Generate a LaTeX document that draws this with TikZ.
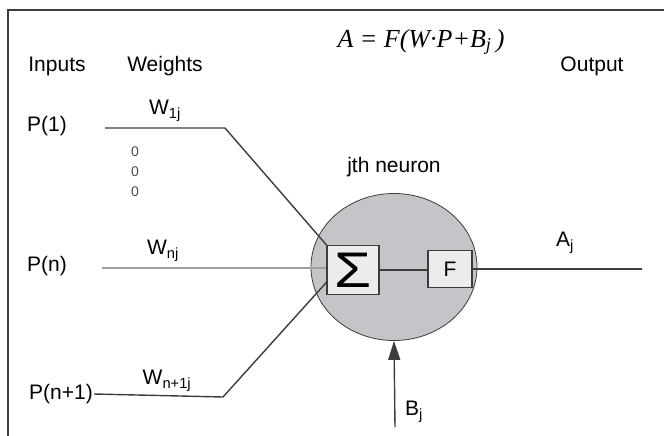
\documentclass[tikz,border=0pt]{standalone}
\usepackage{fontspec}
\setmainfont{Liberation Sans}
\newfontfamily\eqfont{Liberation Serif}
\usetikzlibrary{arrows.meta, shapes.geometric, positioning}

\definecolor{wirecol}{RGB}{60,60,60}
\definecolor{somagray}{RGB}{196,196,201}
\definecolor{boxgray}{RGB}{236,236,236}

\tikzset{
    lbl/.style={font=\fontsize{21}{23}\selectfont, inner sep=1pt},
    wire/.style={draw=wirecol, line width=1.4pt},
    unitbox/.style={draw=wirecol, line width=1.3pt, fill=boxgray, inner sep=0pt},
    dotmark/.style={font=\fontsize{14}{14}\selectfont, text=black!70}
}

\begin{document}
\begin{tikzpicture}[x=1pt, y=-1pt]
    \useasboundingbox (0,0) rectangle (664,436);

        % Frame (cut at right and bottom)
        \draw[wirecol, line width=1.3pt] (664,10) -- (8,10) -- (8,436);

        % Headings and formula
        \node[lbl] (inputs) at (57,66) {Inputs};
        \node[lbl] (weights) at (165,66) {Weights};
        \node[lbl] (output) at (592,66) {Output};
        \node[font=\eqfont\itshape\fontsize{26}{28}\selectfont] (eq) at (421,42)
            {A = F(W·P+B\textsubscript{j}\,)};

        % Inputs
        \node[lbl] (p1) at (47,126) {P(1)};
        \node[lbl] (pn) at (47,266) {P(n)};
        \node[lbl] (pn1) at (61,394) {P(n+1)};

        % Neuron body
        \node[ellipse, draw=wirecol, line width=0.8pt, fill=somagray,
              minimum width=166pt, minimum height=147pt] (neuron) at (394,267) {};
        \node[lbl] (jth) at (394,167) {jth neuron};

        % Summation and transfer function
        \node[unitbox, minimum width=52pt, minimum height=49pt] (sum) at (353,270)
            {\scalebox{1.2}[1]{\fontsize{50}{50}\selectfont Σ}};
        \node[unitbox, lbl, minimum width=44pt, minimum height=37pt, inner sep=0pt] (f) at (450,269) {F};

        % Weighted connections
        \coordinate (s1) at (105,128);
        \coordinate (k1) at (225,128);
        \coordinate (sn) at (102,268);
        \coordinate (k2) at (223,397);
        \draw[wire] (s1) -- (k1) -- (sum.north west);
        \draw[line width=1.4pt, gray!75] (sn) -- (sn -| sum.west);
        \draw[wire] (pn1.east) -- (k2) -- (sum.205);
        \node[lbl] (w1) at (165,111) {W\textsubscript{1j}};
        \node[lbl] (wn) at (163,251) {W\textsubscript{nj}};
        \node[lbl] (wn1) at (167,381) {W\textsubscript{n+1j}};

        % Dots between inputs
        \node[dotmark] (d1) at (135,152) {0};
        \node[dotmark] (d2) at (135,172) {0};
        \node[dotmark] (d3) at (135,192) {0};

        % Output
        \coordinate (out) at (642,269);
        \draw[wire] (sum.east) -- (sum.east -| f.west);
        \draw[wire] (f.east) -- (out);
        \node[lbl] (aj) at (565,243) {A\textsubscript{j}};

        % Bias
        \coordinate (bias) at (395,427);
        \draw[wire, -{Triangle[length=19pt, width=12pt]}] (bias) -- (neuron.south);
        \node[lbl] (bj) at (414,412) {B\textsubscript{j}};
\end{tikzpicture}
\end{document}
